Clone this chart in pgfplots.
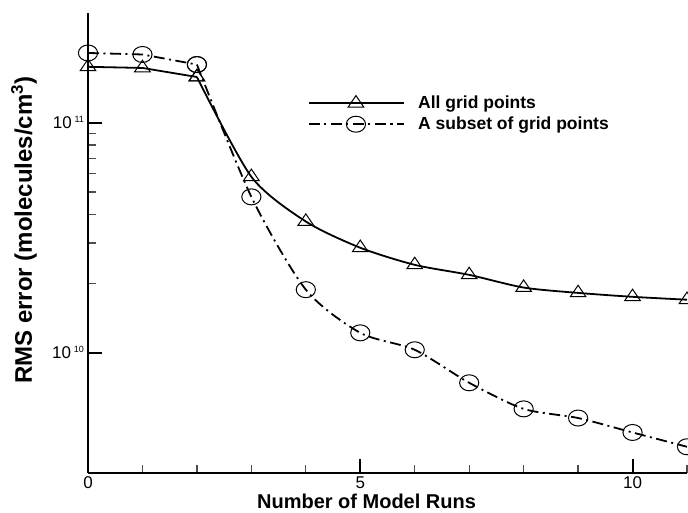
\documentclass[border=0pt]{standalone}
\usepackage{fontspec}
\setmainfont{Liberation Sans}
\usepackage{pgfplots}
\pgfplotsset{compat=1.18}

\begin{document}
\begin{tikzpicture}
\begin{axis}[
    scale only axis,
    width=599pt, height=460pt,
    ymode=log,
    xmin=0, xmax=11,
    ymin=3e9, ymax=3e11,
    axis line style={line width=2.2pt},
    axis x line*=bottom, axis y line*=left,
    separate axis lines,
    xtick={0,5,10},
    xticklabels={0,5,10},
    minor xtick={1,2,3,4,6,7,8,9,11},
    ytick={1e10,1e11},
    yticklabels={10\,\textsuperscript{\fontsize{9}{9}\selectfont 10}, 10\,\textsuperscript{\fontsize{9}{9}\selectfont 11}},
    tick align=inside,
    major tick length=14pt, minor tick length=8pt,
    major tick style={line width=2pt, black},
    minor tick style={line width=1.2pt, black!70},
    xticklabel style={font=\fontsize{17}{19}\selectfont},
    yticklabel style={font=\fontsize{17}{19}\selectfont},
    /pgf/number format/assume math mode=true,
    xlabel={Number of Model Runs},
    ylabel={RMS error (molecules/cm\textsuperscript{3})},
    xlabel style={font=\fontsize{20}{22}\selectfont\bfseries,
      at={(axis description cs:0.465,0)}, anchor=base, yshift=-36pt},
    ylabel style={font=\fontsize{24}{26}\selectfont\bfseries,
      at={(axis description cs:0,0.528)}, anchor=base, yshift=56pt},
    legend style={draw=none, fill=none, at={(axis description cs:0.367,0.827)}, anchor=north west,
      font=\fontsize{17.5}{19}\selectfont\bfseries, inner sep=0pt, column sep=10pt,
      nodes={inner sep=3.4pt}},
    legend cell align=left,
    legend image code/.code={\draw[mark repeat=2,mark phase=2,#1] plot coordinates {(0pt,0pt)(47pt,0pt)(95pt,0pt)};},
    clip=false,
]

% All grid points
\addplot[black, line width=1.8pt, forget plot,
    mark=triangle, mark size=9pt,
    mark options={solid, line width=1pt, fill=none, yscale=0.85}]
    coordinates {
    (0,1.75e11)(1,1.73e11)(2,1.58e11)
    };
\addplot[black, line width=1.8pt, smooth, tension=0.45,
    mark=triangle, mark size=9pt,
    mark options={solid, line width=1pt, fill=none, yscale=0.85}]
    coordinates {
    (2,1.58e11)(3,5.82e10)(4,3.72e10)(5,2.86e10)
    (6,2.41e10)(7,2.18e10)(8,1.92e10)(9,1.82e10)(10,1.75e10)(11,1.70e10)
    };

% A subset of grid points
\addplot[black, line width=1.8pt, forget plot,
    dash pattern=on 11pt off 4.5pt on 2pt off 4.5pt,
    mark=o, mark size=8pt,
    mark options={solid, line width=1pt, fill=none, xscale=1.2}]
    coordinates {
    (0,2.01e11)(1,1.98e11)(2,1.79e11)
    };
\addplot[black, line width=1.8pt, smooth, tension=0.45,
    dash pattern=on 11pt off 4.5pt on 2pt off 4.5pt,
    mark=o, mark size=8pt,
    mark options={solid, line width=1pt, fill=none, xscale=1.2}]
    coordinates {
    (2,1.79e11)(3,4.76e10)(4,1.88e10)(5,1.22e10)
    (6,1.03e10)(7,7.4e9)(8,5.7e9)(9,5.2e9)(10,4.5e9)(11,3.9e9)
    };

\legend{All grid points, A subset of grid points}
\end{axis}
\pgfresetboundingbox
\path[use as bounding box] (-88pt,-39pt) rectangle (600pt,473pt);
\end{tikzpicture}
\end{document}
